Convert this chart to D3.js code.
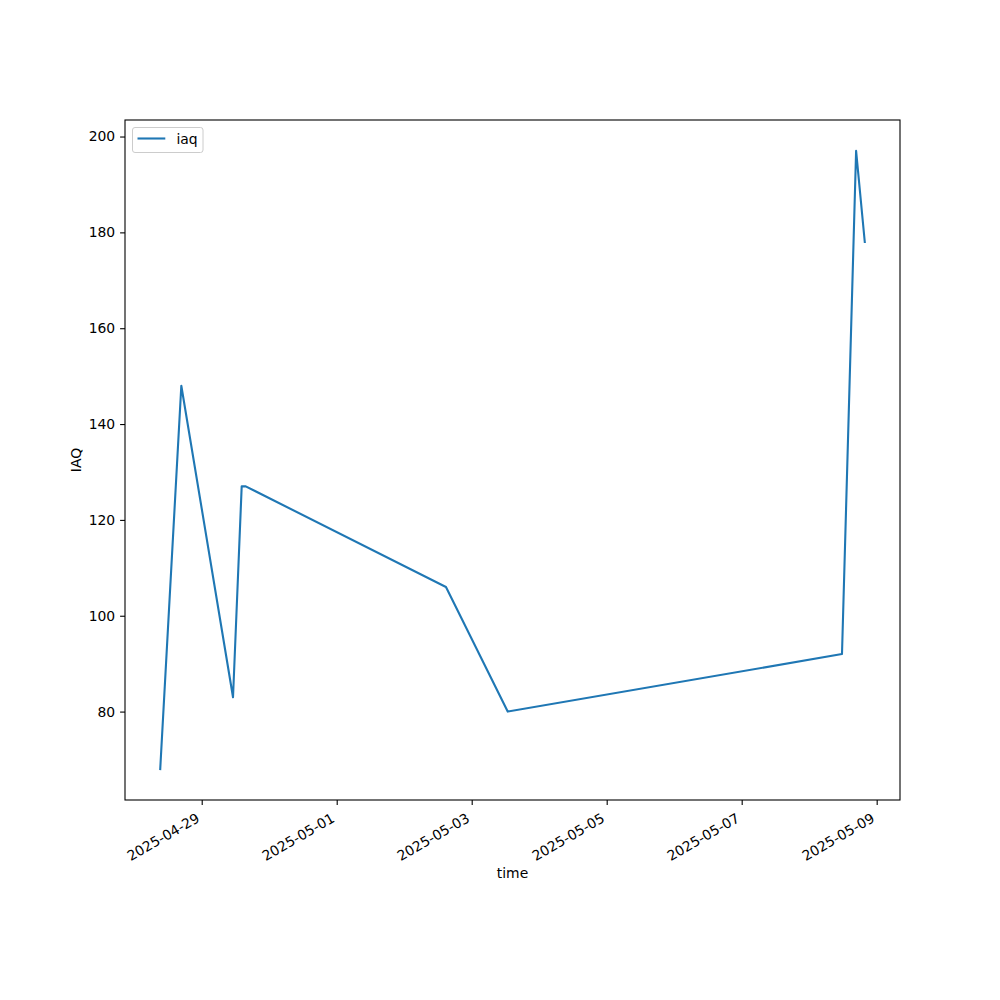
<!DOCTYPE html>
<html>
<head>
<meta charset="utf-8">
<script src="https://cdn.jsdelivr.net/npm/d3@7"></script>
<style>
  html, body { margin: 0; padding: 0; background: #fff; }
  svg { display: block; }
  svg text { font-family: "DejaVu Sans", sans-serif; }
</style>
</head>
<body>
<svg id="chart" width="1000" height="1000"></svg>
<script>
// ---- data ----
const times = [
  "2025-04-28T09:15", "2025-04-28T16:45", "2025-04-29T11:08", "2025-04-29T14:13",
  "2025-04-29T15:39", "2025-05-02T14:51", "2025-05-03T12:48", "2025-05-08T11:40",
  "2025-05-08T16:41", "2025-05-08T19:46"
];
const iaq = [68, 148, 83, 127, 127, 106, 80, 92, 197, 178];
const xTickLabels = ["2025-04-29", "2025-05-01", "2025-05-03", "2025-05-05", "2025-05-07", "2025-05-09"];
const yTicks = [80, 100, 120, 140, 160, 180, 200];
const seriesName = "iaq";
const xLabel = "time";
const yLabel = "IAQ";

// ---- layout ----
const L = 125, R = 900, T = 120, B = 800;
const fs = 13.9;
const font = "DejaVu Sans";
const color = "#1f77b4";
const parse = d3.utcParse("%Y-%m-%dT%H:%M");
const parseDay = d3.utcParse("%Y-%m-%d");
const data = times.map((t, i) => ({ t: parse(t), v: iaq[i] }));

const svg = d3.select("#chart");

// domains with matplotlib-like 5% margins
const tExt = d3.extent(data, d => +d.t);
const tPad = (tExt[1] - tExt[0]) * 0.05;
const vExt = d3.extent(data, d => d.v);
const vPad = (vExt[1] - vExt[0]) * 0.05;

const x = d3.scaleUtc().domain([new Date(tExt[0] - tPad), new Date(tExt[1] + tPad)]).range([L, R]);
const y = d3.scaleLinear().domain([vExt[0] - vPad, vExt[1] + vPad]).range([B, T]);

// line
const line = d3.line().x(d => x(d.t)).y(d => y(d.v));
svg.append("path")
  .datum(data)
  .attr("d", line)
  .attr("fill", "none")
  .attr("stroke", color)
  .attr("stroke-width", 2.1)
  .attr("stroke-linejoin", "round")
  .attr("stroke-linecap", "square");

// x axis
const xTickDates = xTickLabels.map(parseDay);
const xAxis = d3.axisBottom(x)
  .tickValues(xTickDates)
  .tickSize(4.9)
  .tickPadding(0)
  .tickFormat(d3.utcFormat("%Y-%m-%d"));
const gx = svg.append("g").attr("transform", `translate(0,${B})`).call(xAxis)
  .attr("font-family", font).attr("font-size", fs);
gx.select(".domain").remove();
gx.selectAll(".tick line").attr("stroke", "#000").attr("stroke-width", 1.1);
gx.selectAll(".tick text")
  .attr("font-size", fs)
  .attr("font-family", font)
  .attr("fill", "#000")
  .attr("text-anchor", "end")
  .attr("dy", null)
  .attr("y", null)
  .attr("transform", "translate(-1.6,21) rotate(-30)");

// y axis
const yAxis = d3.axisLeft(y).tickValues(yTicks).tickSize(4.9).tickPadding(4.9);
const gy = svg.append("g").attr("transform", `translate(${L},0)`).call(yAxis)
  .attr("font-family", font).attr("font-size", fs);
gy.select(".domain").remove();
gy.selectAll(".tick line").attr("stroke", "#000").attr("stroke-width", 1.1);
gy.selectAll(".tick text").attr("font-size", fs).attr("font-family", font).attr("fill", "#000");

// frame
svg.append("rect")
  .attr("x", L).attr("y", T).attr("width", R - L).attr("height", B - T)
  .attr("fill", "none").attr("stroke", "#000").attr("stroke-width", 1.1);

// axis labels
svg.append("text")
  .attr("x", (L + R) / 2).attr("y", 878)
  .attr("text-anchor", "middle")
  .attr("font-family", font)
  .attr("font-size", fs)
  .text(xLabel);
svg.append("text")
  .attr("transform", `translate(81,${(T + B) / 2}) rotate(-90)`)
  .attr("text-anchor", "middle")
  .attr("font-family", font)
  .attr("font-size", fs)
  .text(yLabel);

// legend
const lg = svg.append("g");
lg.append("rect")
  .attr("x", 132.5).attr("y", 127.5).attr("width", 70.5).attr("height", 25)
  .attr("rx", 2.5).attr("ry", 2.5)
  .attr("fill", "#fff").attr("fill-opacity", 0.8)
  .attr("stroke", "#cccccc").attr("stroke-width", 1);
lg.append("line")
  .attr("x1", 137.5).attr("x2", 165.3).attr("y1", 138.5).attr("y2", 138.5)
  .attr("stroke", color).attr("stroke-width", 2.1);
lg.append("text")
  .attr("x", 176.5).attr("y", 143.5)
  .attr("font-family", font)
  .attr("font-size", fs)
  .text(seriesName);
</script>
</body>
</html>
